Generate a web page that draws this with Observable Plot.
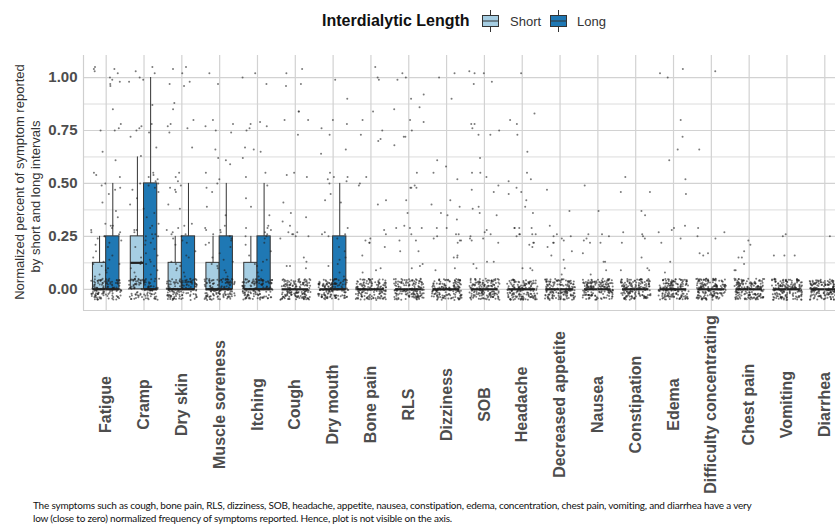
<!DOCTYPE html>
<html>
<head>
<meta charset="utf-8">
<script src="https://cdn.jsdelivr.net/npm/d3@7"></script>
<script src="https://cdn.jsdelivr.net/npm/@observablehq/plot@0.6"></script>
<style>
  html, body { margin: 0; padding: 0; background: #fff; overflow: hidden; }
  #page { width: 835px; height: 525px; overflow: hidden; position: relative; }
  #legend { height: 40px; position: relative; font-family: "Liberation Sans", Arial, sans-serif; }
  #legend .title { position: absolute; left: 322px; top: 12px; font-size: 16px; font-weight: bold; color: #111; }
  #legend .key { position: absolute; top: 10px; }
  #legend .lab { position: absolute; top: 14px; font-size: 13px; color: #333; }
  #chart { width: 847px; height: 455px; }
  #chart svg { display: block; max-width: none !important; }
  #caption { margin: 4px 0 0 33px; font-family: Lato, "Liberation Sans", Arial, sans-serif; font-size: 10px; line-height: 13px; letter-spacing: -0.2px; color: #111; white-space: nowrap; }
</style>
</head>
<body>
<div id="page">
  <div id="legend"></div>
  <div id="chart"></div>
  <div id="caption">The symptoms such as cough, bone pain, RLS, dizziness, SOB, headache, appetite, nausea, constipation, edema, concentration, chest pain, vomiting, and diarrhea have a very<br>low (close to zero) normalized frequency of symptoms reported. Hence, plot is not visible on the axis.</div>
</div>
<script>
// Symptoms, in plotting order
const categories = ["Fatigue", "Cramp", "Dry skin", "Muscle soreness", "Itching", "Cough", "Dry mouth",
  "Bone pain", "RLS", "Dizziness", "SOB", "Headache", "Decreased appetite", "Nausea", "Constipation",
  "Edema", "Difficulty concentrating", "Chest pain", "Vomiting", "Diarrhea"];

const groups = ["Short", "Long"];
const groupColors = ["#a6cee3", "#1f78b4"];

// Box-plot summaries per symptom: short interdialytic interval
const shortQ1     = [0, 0, 0, 0, 0, 0, 0, 0, 0, 0, 0, 0, 0, 0, 0, 0, 0, 0, 0, 0];
const shortMedian = [0, 0.125, 0, 0, 0, 0, 0, 0, 0, 0, 0, 0, 0, 0, 0, 0, 0, 0, 0, 0];
const shortQ3     = [0.125, 0.25, 0.125, 0.125, 0.125, 0, 0, 0, 0, 0, 0, 0, 0, 0, 0, 0, 0, 0, 0, 0];
const shortUpper  = [0.25, 0.625, 0.25, 0.25, 0.25, 0, 0, 0, 0, 0, 0, 0, 0, 0, 0, 0, 0, 0, 0, 0];

// Box-plot summaries per symptom: long interdialytic interval
const longQ1     = [0, 0, 0, 0, 0, 0, 0, 0, 0, 0, 0, 0, 0, 0, 0, 0, 0, 0, 0, 0];
const longMedian = [0, 0, 0, 0, 0, 0, 0, 0, 0, 0, 0, 0, 0, 0, 0, 0, 0, 0, 0, 0];
const longQ3     = [0.25, 0.5, 0.25, 0.25, 0.25, 0, 0.25, 0, 0, 0, 0, 0, 0, 0, 0, 0, 0, 0, 0, 0];
const longUpper  = [0.5, 1.0, 0.5, 0.5, 0.5, 0, 0.5, 0, 0, 0, 0, 0, 0, 0, 0, 0, 0, 0, 0, 0];

// Individual non-zero observations per symptom (both intervals pooled)
const fatiguePts = [1.05, 1.04, 1.03, 1.02, 1.0, 0.98, 0.97, 0.96, 0.99, 1.04, 0.85, 0.78, 0.76, 0.75, 0.75,
  0.65, 0.61, 0.55, 0.54, 0.53, 0.5, 0.49, 0.48, 0.47, 0.45, 0.41, 0.37, 0.34, 0.31, 0.3, 0.3, 0.29, 0.28,
  0.27, 0.27, 0.26, 0.25, 0.25, 0.24, 0.23, 0.22, 0.21, 0.2, 0.18, 0.16, 0.15, 0.14, 0.13, 0.12, 0.12, 0.11,
  0.1, 0.09, 0.08, 0.07, 0.06, 0.05, 0.04, 0.04, 0.03];
const crampPts = [1.05, 1.03, 1.02, 1.0, 0.99, 0.98, 0.87, 0.78, 0.77, 0.76, 0.75, 0.74, 0.72, 0.67, 0.63,
  0.55, 0.54, 0.53, 0.52, 0.51, 0.5, 0.5, 0.49, 0.48, 0.47, 0.46, 0.43, 0.4, 0.38, 0.36, 0.34, 0.31, 0.3,
  0.29, 0.28, 0.28, 0.27, 0.26, 0.26, 0.25, 0.25, 0.24, 0.23, 0.22, 0.21, 0.2, 0.19, 0.17, 0.16, 0.15, 0.14,
  0.13, 0.13, 0.12, 0.12, 0.11, 0.1, 0.09, 0.08, 0.07, 0.06, 0.05, 0.04, 0.04, 0.03];
const drySkinPts = [1.05, 1.04, 1.02, 0.98, 0.97, 0.96, 0.88, 0.85, 0.8, 0.78, 0.77, 0.76, 0.74, 0.67, 0.55,
  0.53, 0.51, 0.49, 0.48, 0.47, 0.46, 0.4, 0.38, 0.31, 0.3, 0.29, 0.28, 0.27, 0.26, 0.26, 0.25, 0.24, 0.23,
  0.22, 0.21, 0.18, 0.16, 0.15, 0.13, 0.12, 0.11, 0.1, 0.09, 0.08, 0.06, 0.05, 0.04];
const musclePts = [1.02, 0.97, 0.8, 0.78, 0.77, 0.75, 0.74, 0.66, 0.62, 0.61, 0.59, 0.55, 0.52, 0.5, 0.48,
  0.46, 0.39, 0.35, 0.3, 0.29, 0.28, 0.28, 0.27, 0.26, 0.25, 0.24, 0.23, 0.22, 0.21, 0.2, 0.17, 0.15, 0.14,
  0.13, 0.12, 0.11, 0.1, 0.09, 0.08, 0.06, 0.05];
const itchingPts = [1.02, 1.0, 0.97, 0.79, 0.78, 0.77, 0.76, 0.75, 0.67, 0.66, 0.65, 0.62, 0.55, 0.53, 0.49,
  0.43, 0.39, 0.35, 0.3, 0.29, 0.29, 0.28, 0.27, 0.26, 0.25, 0.25, 0.24, 0.22, 0.21, 0.18, 0.16, 0.14, 0.13,
  0.12, 0.11, 0.09, 0.08, 0.06, 0.05];
const coughPts = [1.02, 1.04, 0.97, 0.96, 0.84, 0.8, 0.8, 0.84, 0.73, 0.55, 0.54, 0.53, 0.41, 0.34, 0.36,
  0.32, 0.3, 0.27, 0.26, 0.25, 0.26, 0.27, 0.25, 0.24, 0.15, 0.13, 0.11, 0.1, 0.11];
const dryMouthPts = [0.99, 0.9, 0.8, 0.78, 0.76, 0.73, 0.66, 0.64, 0.52, 0.55, 0.53, 0.53, 0.5, 0.51, 0.45,
  0.42, 0.41, 0.29, 0.26, 0.27, 0.26, 0.25, 0.24, 0.2, 0.15, 0.12, 0.11, 0.08, 0.06, 0.18, 0.14];
const bonePainPts = [1.05, 0.99, 1.0, 0.8, 0.84, 0.75, 0.71, 0.7, 0.73, 0.5, 0.49, 0.53, 0.4, 0.42, 0.28,
  0.26, 0.24, 0.22, 0.23, 0.22, 0.2, 0.16, 0.08, 0.1, 0.09];
const rlsPts = [1.02, 1.0, 0.99, 0.92, 0.9, 0.86, 0.85, 0.8, 0.79, 0.75, 0.72, 0.68, 0.72, 0.48, 0.48, 0.48,
  0.49, 0.55, 0.42, 0.36, 0.29, 0.26, 0.3, 0.29, 0.29, 0.23, 0.23, 0.18, 0.18, 0.1, 0.12, 0.11];
const dizzinessPts = [1.02, 1.0, 0.9, 0.61, 0.58, 0.55, 0.52, 0.42, 0.4, 0.39, 0.36, 0.35, 0.33, 0.29, 0.29,
  0.26, 0.26, 0.25, 0.24, 0.23, 0.23, 0.22, 0.16, 0.15, 0.15, 0.09, 0.1];
const sobPts = [1.03, 1.02, 1.02, 0.97, 0.98, 0.78, 0.76, 0.75, 0.78, 0.73, 0.73, 0.62, 0.53, 0.55, 0.55,
  0.49, 0.47, 0.46, 0.38, 0.35, 0.36, 0.39, 0.28, 0.27, 0.25, 0.24, 0.24, 0.23, 0.26, 0.22, 0.13, 0.13, 0.12, 0.1];
const headachePts = [1.02, 0.83, 0.8, 0.73, 0.78, 0.65, 0.51, 0.46, 0.45, 0.55, 0.52, 0.48, 0.42, 0.39, 0.36,
  0.29, 0.29, 0.29, 0.26, 0.26, 0.29, 0.26, 0.26, 0.25, 0.22, 0.22, 0.21, 0.2, 0.1, 0.1, 0.09];
const appetitePts = [0.47, 0.37, 0.3, 0.26, 0.25, 0.25, 0.24, 0.23, 0.22, 0.22, 0.2, 0.18, 0.16, 0.14, 0.1, 0.07];
const nauseaPts = [0.49, 0.37, 0.26, 0.26, 0.25, 0.24, 0.23, 0.22, 0.22, 0.17, 0.13, 0.13, 0.09, 0.07];
const constipationPts = [0.53, 0.46, 0.46, 0.37, 0.35, 0.27, 0.26, 0.24, 0.25, 0.22, 0.15, 0.09, 0.09, 0.1];
const edemaPts = [1.04, 1.02, 1.0, 0.8, 0.72, 0.66, 0.61, 0.52, 0.45, 0.29, 0.3, 0.28, 0.27, 0.24, 0.22, 0.13, 0.08];
const concentratingPts = [1.03, 0.66, 0.29, 0.27, 0.25, 0.24, 0.17, 0.17, 0.16];
const chestPainPts = [0.23, 0.21, 0.18, 0.15, 0.15, 0.12, 0.09, 0.09];
const vomitingPts = [0.26, 0.25, 0.16, 0.16, 0.16];
const diarrheaPts = [0.25, 0.09];

// Number of zero responses per symptom (both intervals pooled)
const zeroCounts = [120, 110, 130, 135, 135, 150, 145, 150, 150, 150, 150, 150, 155, 155, 155, 155, 160, 160, 160, 160];

const yTicks = [0, 0.25, 0.5, 0.75, 1.0];
const yMinor = [0.125, 0.375, 0.625, 0.875];

const symptomPoints = [fatiguePts, crampPts, drySkinPts, musclePts, itchingPts, coughPts, dryMouthPts,
  bonePainPts, rlsPts, dizzinessPts, sobPts, headachePts, appetitePts, nauseaPts, constipationPts,
  edemaPts, concentratingPts, chestPainPts, vomitingPts, diarrheaPts];

// Boxes dodged side by side within each symptom slot
const boxWidth = 0.35;
const boxes = [];
categories.forEach((c, i) => {
  boxes.push({i, group: "Short", x1: i - boxWidth, x2: i, xc: i - boxWidth / 2,
    q1: shortQ1[i], median: shortMedian[i], q3: shortQ3[i], upper: shortUpper[i]});
  boxes.push({i, group: "Long", x1: i, x2: i + boxWidth, xc: i + boxWidth / 2,
    q1: longQ1[i], median: longMedian[i], q3: longQ3[i], upper: longUpper[i]});
});

// Seeded jitter so the scatter is stable between renders
const rng = d3.randomLcg(0.2718);
const jitterX = d3.randomUniform.source(rng)(-0.4, 0.4);
const jitterY = d3.randomUniform.source(rng)(-0.05, 0.05);
const points = [];
categories.forEach((c, i) => {
  for (const v of symptomPoints[i]) points.push({x: i + jitterX(), y: v});
  for (let k = 0; k < zeroCounts[i]; ++k) points.push({x: i + jitterX(), y: 0 + jitterY()});
});

const n = categories.length;
const chart = Plot.plot({
  width: 847,
  height: 455,
  marginLeft: 83,
  marginRight: 0,
  marginTop: 15,
  marginBottom: 185,
  style: {fontFamily: "'Liberation Sans', Arial, sans-serif", background: "#fff", maxWidth: "none"},
  x: {domain: [-0.6, n - 0.4], axis: null},
  y: {domain: [-0.1, 1.104], axis: null},
  color: {domain: groups, range: groupColors},
  marks: [
    Plot.ruleY(yMinor, {stroke: "#dcdcdc", strokeWidth: 1}),
    Plot.ruleY(yTicks, {stroke: "#d2d2d2", strokeWidth: 1.2}),
    Plot.ruleX(d3.range(n), {stroke: "#d2d2d2", strokeWidth: 1.2}),
    Plot.ruleX([-0.6], {stroke: "#cfcfcf", strokeWidth: 1.2}),
    Plot.ruleY([-0.1], {stroke: "#cfcfcf", strokeWidth: 1.2}),
    Plot.rect(boxes, {x1: "x1", x2: "x2", y1: "q1", y2: "q3", fill: "group", stroke: "#333", strokeWidth: 1}),
    Plot.ruleX(boxes, {x: "xc", y1: "q3", y2: "upper", stroke: "#333", strokeWidth: 1}),
    Plot.ruleY(boxes, {y: "median", x1: "x1", x2: "x2", stroke: "#222", strokeWidth: 2.2}),
    Plot.dot(points, {x: "x", y: "y", r: 1, fill: "#222", fillOpacity: 0.6, stroke: null}),
    Plot.axisY({ticks: yTicks, tickFormat: d3.format(".2f"), tickSize: 0, tickPadding: 6,
      fontSize: 15, fontWeight: "bold", fill: "#4d4d4d", label: null}),
    Plot.axisX({ticks: d3.range(n), tickFormat: (i) => categories[i], tickSize: 0, tickRotate: -90,
      textAnchor: "middle", tickPadding: 94, fontSize: 16, fontWeight: "bold", fill: "#4d4d4d", label: null}),
    Plot.text(["Normalized percent of symptom reported"], {frameAnchor: "left", rotate: -90, dx: -64, dy: -1,
      fontSize: 13, fill: "#333", textAnchor: "middle"}),
    Plot.text(["by short and long intervals"], {frameAnchor: "left", rotate: -90, dx: -48, dy: 13.5,
      fontSize: 13, fill: "#333", textAnchor: "middle"})
  ]
});
document.getElementById("chart").appendChild(chart);

// Legend: title plus a small box-plot key per interval length
const legend = document.getElementById("legend");
function keyGlyph(color) {
  return `<svg width="17" height="22" viewBox="0 0 17 22">
    <line x1="8.5" y1="0" x2="8.5" y2="5" stroke="#333"/>
    <line x1="8.5" y1="17" x2="8.5" y2="22" stroke="#333"/>
    <rect x="0.5" y="5.5" width="16" height="11" fill="${color}" stroke="#333"/>
    <line x1="0.5" y1="11" x2="16.5" y2="11" stroke="#333"/>
  </svg>`;
}
const keyLeft = [482, 550];
const labLeft = [510, 577];
legend.innerHTML = `<span class="title">Interdialytic Length</span>` +
  groups.map((g, j) =>
    `<span class="key" style="left:${keyLeft[j]}px">${keyGlyph(groupColors[j])}</span>` +
    `<span class="lab" style="left:${labLeft[j]}px">${g}</span>`).join("");
</script>
</body>
</html>
